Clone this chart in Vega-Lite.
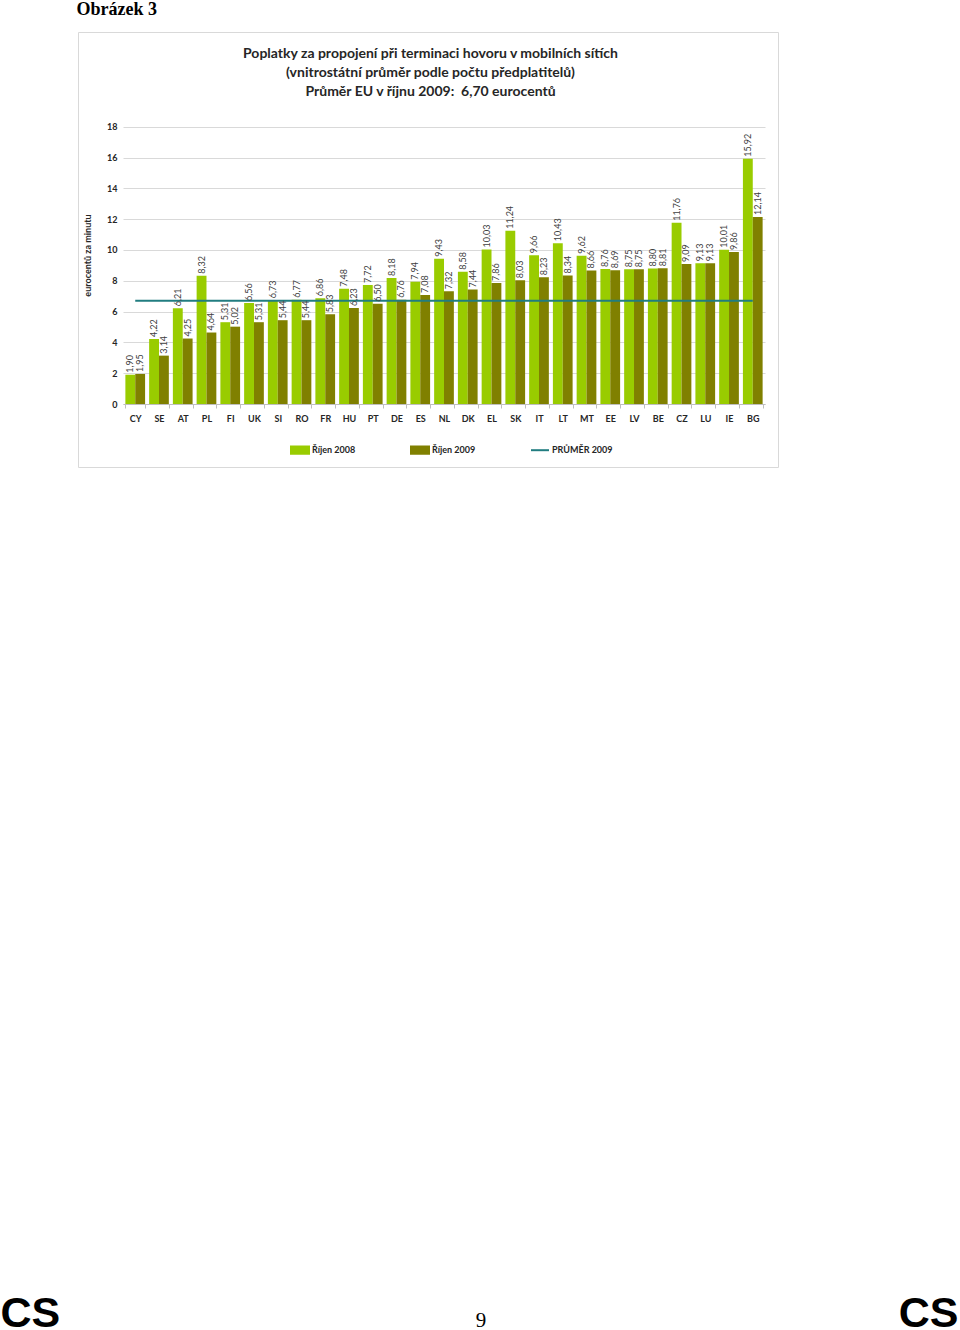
{
  "$schema": "https://vega.github.io/schema/vega-lite/v6.json",
  "width": 700,
  "height": 435,
  "autosize": {"type": "none"},
  "padding": {"left": 78, "top": 32, "right": 182, "bottom": 863},
  "background": "white",
  "data": {"values": [
    {"c": "CY", "s": "Říjen 2008", "v": 1.90}, {"c": "CY", "s": "Říjen 2009", "v": 1.95},
    {"c": "SE", "s": "Říjen 2008", "v": 4.22}, {"c": "SE", "s": "Říjen 2009", "v": 3.14},
    {"c": "AT", "s": "Říjen 2008", "v": 6.21}, {"c": "AT", "s": "Říjen 2009", "v": 4.25},
    {"c": "PL", "s": "Říjen 2008", "v": 8.32}, {"c": "PL", "s": "Říjen 2009", "v": 4.64},
    {"c": "FI", "s": "Říjen 2008", "v": 5.31}, {"c": "FI", "s": "Říjen 2009", "v": 5.02},
    {"c": "UK", "s": "Říjen 2008", "v": 6.56}, {"c": "UK", "s": "Říjen 2009", "v": 5.31},
    {"c": "SI", "s": "Říjen 2008", "v": 6.73}, {"c": "SI", "s": "Říjen 2009", "v": 5.44},
    {"c": "RO", "s": "Říjen 2008", "v": 6.77}, {"c": "RO", "s": "Říjen 2009", "v": 5.44},
    {"c": "FR", "s": "Říjen 2008", "v": 6.86}, {"c": "FR", "s": "Říjen 2009", "v": 5.83},
    {"c": "HU", "s": "Říjen 2008", "v": 7.48}, {"c": "HU", "s": "Říjen 2009", "v": 6.23},
    {"c": "PT", "s": "Říjen 2008", "v": 7.72}, {"c": "PT", "s": "Říjen 2009", "v": 6.50},
    {"c": "DE", "s": "Říjen 2008", "v": 8.18}, {"c": "DE", "s": "Říjen 2009", "v": 6.76},
    {"c": "ES", "s": "Říjen 2008", "v": 7.94}, {"c": "ES", "s": "Říjen 2009", "v": 7.08},
    {"c": "NL", "s": "Říjen 2008", "v": 9.43}, {"c": "NL", "s": "Říjen 2009", "v": 7.32},
    {"c": "DK", "s": "Říjen 2008", "v": 8.58}, {"c": "DK", "s": "Říjen 2009", "v": 7.44},
    {"c": "EL", "s": "Říjen 2008", "v": 10.03}, {"c": "EL", "s": "Říjen 2009", "v": 7.86},
    {"c": "SK", "s": "Říjen 2008", "v": 11.24}, {"c": "SK", "s": "Říjen 2009", "v": 8.03},
    {"c": "IT", "s": "Říjen 2008", "v": 9.66}, {"c": "IT", "s": "Říjen 2009", "v": 8.23},
    {"c": "LT", "s": "Říjen 2008", "v": 10.43}, {"c": "LT", "s": "Říjen 2009", "v": 8.34},
    {"c": "MT", "s": "Říjen 2008", "v": 9.62}, {"c": "MT", "s": "Říjen 2009", "v": 8.66},
    {"c": "EE", "s": "Říjen 2008", "v": 8.76}, {"c": "EE", "s": "Říjen 2009", "v": 8.69},
    {"c": "LV", "s": "Říjen 2008", "v": 8.75}, {"c": "LV", "s": "Říjen 2009", "v": 8.75},
    {"c": "BE", "s": "Říjen 2008", "v": 8.80}, {"c": "BE", "s": "Říjen 2009", "v": 8.81},
    {"c": "CZ", "s": "Říjen 2008", "v": 11.76}, {"c": "CZ", "s": "Říjen 2009", "v": 9.09},
    {"c": "LU", "s": "Říjen 2008", "v": 9.13}, {"c": "LU", "s": "Říjen 2009", "v": 9.13},
    {"c": "IE", "s": "Říjen 2008", "v": 10.01}, {"c": "IE", "s": "Říjen 2009", "v": 9.86},
    {"c": "BG", "s": "Říjen 2008", "v": 15.92}, {"c": "BG", "s": "Říjen 2009", "v": 12.14}
  ]},
  "resolve": {"axis": {"x": "independent", "y": "independent"}},
  "layer": [
    {
      "mark": {"type": "bar"},
      "encoding": {
        "x": {"field": "c", "type": "nominal",
          "scale": {"domain": ["CY","SE","AT","PL","FI","UK","SI","RO","FR","HU","PT","DE","ES","NL","DK","EL","SK","IT","LT","MT","EE","LV","BE","CZ","LU","IE","BG"], "range": [45, 687], "paddingInner": 0.17, "paddingOuter": 0.1},
          "axis": {"orient": "bottom", "offset": -63, "title": null, "labelAngle": 0, "domainColor": "#bfbfbf", "tickColor": "#bfbfbf", "tickBand": "extent", "tickSize": 4, "labelPadding": 6, "grid": false, "labelColor": "#262626"}},
        "xOffset": {"field": "s", "type": "nominal", "scale": {"domain": ["Říjen 2008", "Říjen 2009"], "paddingInner": 0, "paddingOuter": 0}},
        "y": {"field": "v", "type": "quantitative",
          "scale": {"domain": [0, 18], "range": [372, 94.7], "nice": false, "zero": true},
          "axis": {"orient": "left", "offset": -45, "values": [0,2,4,6,8,10,12,14,16,18], "grid": true, "gridColor": "#d9d9d9", "domain": false, "ticks": false, "labelPadding": 6, "labelColor": "#262626", "title": "eurocentů za minutu", "titleX": -36, "titleY": 223, "titleAngle": -90, "titleAlign": "center", "titleBaseline": "middle"}},
        "color": {"field": "s", "type": "nominal",
          "scale": {"domain": ["Říjen 2008", "Říjen 2009", "PRŮMĚR 2009"], "range": ["#99cc00", "#808000", "#217d80"]},
          "legend": {"orient": "none", "legendX": 212, "legendY": 408, "direction": "horizontal", "columns": 3, "gridAlign": "all", "columnPadding": 34, "title": null, "padding": 0, "symbolSize": 324, "labelOffset": 2, "labelFont": "Lato", "labelFontSize": 9, "labelFontWeight": "bold", "labelColor": "#262626",
            "encode": {"symbols": {"update": {
              "shape": {"signal": "datum.value === 'PRŮMĚR 2009' ? 'M-1,-0.4M1,0.4M-1,0H1' : 'M-1,-0.4H1V0.4H-1Z'"},
              "fill": {"signal": "datum.value === 'PRŮMĚR 2009' ? 'transparent' : (datum.value === 'Říjen 2008' ? '#99cc00' : '#808000')"},
              "stroke": {"signal": "datum.value === 'PRŮMĚR 2009' ? '#217d80' : 'transparent'"},
              "strokeWidth": {"value": 2},
              "opacity": {"value": 1}
            }}}}}
      }
    },
    {
      "data": {"values": [{"avg": 6.70}]},
      "mark": {"type": "rule", "strokeWidth": 2},
      "encoding": {
        "x": {"datum": "CY", "type": "nominal", "axis": null},
        "x2": {"datum": "BG"},
        "y": {"field": "avg", "type": "quantitative",
          "axis": {"orient": "left", "offset": 0, "labels": false, "ticks": false, "domain": false, "grid": false,
            "title": "Obrázek 3", "titleX": -2, "titleY": -18, "titleAngle": 0, "titleAlign": "left", "titleBaseline": "alphabetic", "titleFont": "Liberation Serif", "titleFontSize": 18, "titleFontWeight": "bold", "titleColor": "#000000"}},
        "color": {"datum": "PRŮMĚR 2009", "type": "nominal"}
      }
    },
    {
      "transform": [{"filter": "datum.s === 'Říjen 2008'"}, {"calculate": "replace(format(datum.v, '.2f'), '.', ',')", "as": "t"}],
      "mark": {"type": "text", "angle": 270, "align": "left", "baseline": "middle", "dx": 2, "font": "Lato", "fontSize": 9, "color": "#404040"},
      "encoding": {
        "x": {"field": "c", "type": "nominal",
          "axis": {"orient": "top", "offset": 0, "labels": false, "ticks": false, "domain": false, "grid": false,
            "title": ["Poplatky za propojení při terminaci hovoru v mobilních sítích", "(vnitrostátní průměr podle počtu předplatitelů)", "Průměr EU v říjnu 2009:\u00a0\u00a06,70 eurocentů"],
            "titleX": 352, "titleY": 25, "titleAngle": 0, "titleAlign": "center", "titleBaseline": "alphabetic", "titleFont": "Lato", "titleFontSize": 14, "titleFontWeight": "bold", "titleColor": "#262626", "titleLineHeight": 19}},
        "xOffset": {"field": "s", "type": "nominal"},
        "y": {"field": "v", "type": "quantitative",
          "axis": {"orient": "right", "offset": 0, "labels": false, "ticks": false, "domain": false, "grid": false,
            "title": "CS", "titleX": 180, "titleY": 1294, "titleAngle": 0, "titleAlign": "right", "titleBaseline": "alphabetic", "titleFont": "Liberation Sans", "titleFontSize": 43, "titleFontWeight": "bold", "titleColor": "#000000"}},
        "text": {"field": "t", "type": "nominal"}
      }
    },
    {
      "transform": [{"filter": "datum.s === 'Říjen 2009'"}, {"calculate": "replace(format(datum.v, '.2f'), '.', ',')", "as": "t"}],
      "mark": {"type": "text", "angle": 270, "align": "left", "baseline": "middle", "dx": 2, "font": "Lato", "fontSize": 9, "color": "#404040"},
      "encoding": {
        "x": {"field": "c", "type": "nominal",
          "axis": {"orient": "bottom", "offset": 0, "labels": false, "ticks": false, "domain": false, "grid": false,
            "title": "9", "titleX": 402.5, "titleY": 859, "titleAngle": 0, "titleAlign": "center", "titleBaseline": "alphabetic", "titleFont": "Liberation Serif", "titleFontSize": 21, "titleFontWeight": "normal", "titleColor": "#000000"}},
        "xOffset": {"field": "s", "type": "nominal"},
        "y": {"field": "v", "type": "quantitative",
          "axis": {"orient": "left", "offset": 0, "labels": false, "ticks": false, "domain": false, "grid": false,
            "title": "CS", "titleX": -78, "titleY": 1294, "titleAngle": 0, "titleAlign": "left", "titleBaseline": "alphabetic", "titleFont": "Liberation Sans", "titleFontSize": 43, "titleFontWeight": "bold", "titleColor": "#000000"}},
        "text": {"field": "t", "type": "nominal"}
      }
    }
  ],
  "config": {
    "view": {"stroke": "#d9d9d9", "strokeWidth": 1},
    "axis": {"labelFont": "Lato", "labelFontSize": 9, "labelFontWeight": "bold", "titleFont": "Lato", "titleFontSize": 9, "titleFontWeight": "bold", "titleColor": "#262626"}
  }
}
